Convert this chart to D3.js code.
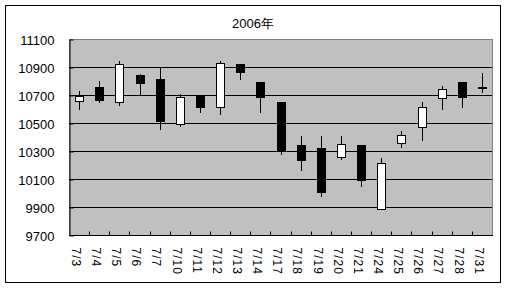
<!DOCTYPE html>
<html>
<head>
<meta charset="utf-8">
<script src="https://cdn.jsdelivr.net/npm/d3@7"></script>
<style>
  body { margin: 0; background: #fff; }
  svg text { font-family: "Liberation Sans", Arial, sans-serif; fill: #000; }
</style>
</head>
<body>
<svg id="chart" width="507" height="288"></svg>
<script>
// Nikkei-style daily candles, July 2006
var dates = ["7/3","7/4","7/5","7/6","7/7","7/10","7/11","7/12","7/13","7/14","7/17",
             "7/18","7/19","7/20","7/21","7/24","7/25","7/26","7/27","7/28","7/31"];
var open  = [10660,10760,10650,10840,10815,10495,10695,10615,10925,10790,10650,
             10340,10325,10255,10340, 9885,10355,10470,10680,10790,10760];
var high  = [10730,10800,10945,10850,10890,10710,10700,10945,10925,10790,10650,
             10410,10410,10410,10340,10250,10445,10650,10765,10790,10860];
var low   = [10595,10645,10620,10700,10450,10470,10570,10555,10805,10570,10270,
             10155, 9975,10235,10040, 9885,10325,10370,10595,10610,10715];
var close = [10695,10670,10920,10780,10515,10685,10620,10930,10865,10685,10300,
             10235,10010,10350,10090,10215,10415,10615,10745,10685,10750];
var yTicks = [9700, 9900, 10100, 10300, 10500, 10700, 10900, 11100];
var title = "2006年";

var candles = dates.map(function (d, i) {
    return { date: d, open: open[i], high: high[i], low: low[i], close: close[i] };
});

var svg = d3.select("#chart");
// plot area edges (window.top is reserved, so prefix these)
var plotL = 69, plotR = 492, plotT = 39, plotB = 235;

// outer frame
svg.append("rect")
    .attr("x", 5.5).attr("y", 5.5)
    .attr("width", 495).attr("height", 277)
    .style("fill", "#fff").style("stroke", "#000");

var x = d3.scaleBand().domain(dates).range([plotL, plotR]);
var y = d3.scaleLinear().domain([9700, 11100]).range([plotB, plotT]);

// plot area
svg.append("rect")
    .attr("x", plotL + 0.5).attr("y", plotT + 0.5)
    .attr("width", plotR - plotL).attr("height", plotB - plotT)
    .style("fill", "#c0c0c0").style("stroke", "#808080");

// gridlines
svg.append("g").selectAll("line")
    .data(yTicks.slice(1, -1))
    .join("line")
    .attr("x1", plotL).attr("x2", plotR)
    .attr("y1", function (d) { return Math.round(y(d)) + 0.5; })
    .attr("y2", function (d) { return Math.round(y(d)) + 0.5; })
    .style("stroke", "#000");

// y axis
var yAxis = svg.append("g")
    .attr("transform", "translate(" + (plotL + 0.5) + ",0.5)")
    .call(d3.axisLeft(y).tickValues(yTicks).tickFormat(d3.format("d"))
        .tickSizeInner(-4).tickSizeOuter(0).tickPadding(15));
yAxis.select(".domain").style("stroke", "#000");
yAxis.selectAll("line").style("stroke", "#000");
yAxis.selectAll("text")
    .style("font-size", "13px")
    .style("font-family", "Liberation Sans, Arial, sans-serif")
    .attr("dy", "0.35em");

// x axis, ticks between categories pointing up
var xAxis = svg.append("g")
    .attr("transform", "translate(0," + (plotB + 0.5) + ")");
xAxis.append("line")
    .attr("x1", plotL).attr("x2", plotR + 1)
    .style("stroke", "#000");
xAxis.selectAll("line.tick")
    .data(dates.slice(1))
    .join("line")
    .attr("class", "tick")
    .attr("x1", function (d) { return Math.round(x(d)) + 0.5; })
    .attr("x2", function (d) { return Math.round(x(d)) + 0.5; })
    .attr("y1", 0).attr("y2", -4)
    .style("stroke", "#000");
xAxis.selectAll("text")
    .data(dates)
    .join("text")
    .attr("transform", function (d) {
        return "translate(" + (x(d) + x.bandwidth() / 2 - 3) + ",12) rotate(90)";
    })
    .attr("dy", "0.35em")
    .style("font-size", "12px")
    .style("letter-spacing", "1px")
    .text(function (d) { return d; });

// candles
var bodyW = 8;
var c = svg.append("g").selectAll("g.candle")
    .data(candles)
    .join("g")
    .attr("class", "candle");

c.append("line")
    .attr("x1", function (d) { return Math.round(x(d.date) + x.bandwidth() / 2) + 0.5; })
    .attr("x2", function (d) { return Math.round(x(d.date) + x.bandwidth() / 2) + 0.5; })
    .attr("y1", function (d) { return Math.round(y(d.high)); })
    .attr("y2", function (d) { return Math.round(y(d.low)); })
    .style("stroke", "#000");

c.append("rect")
    .attr("x", function (d) { return Math.round(x(d.date) + x.bandwidth() / 2 - bodyW / 2) + 0.5; })
    .attr("y", function (d) { return Math.round(y(Math.max(d.open, d.close))) + 0.5; })
    .attr("width", bodyW)
    .attr("height", function (d) {
        return Math.max(1, Math.round(Math.abs(y(d.open) - y(d.close))));
    })
    .style("fill", function (d) { return d.close >= d.open ? "#fff" : "#000"; })
    .style("stroke", "#000");

// title
svg.append("text")
    .attr("x", 253).attr("y", 23)
    .attr("text-anchor", "middle")
    .attr("dy", "0.35em")
    .style("font-size", "13px")
    .text(title);
</script>
</body>
</html>
